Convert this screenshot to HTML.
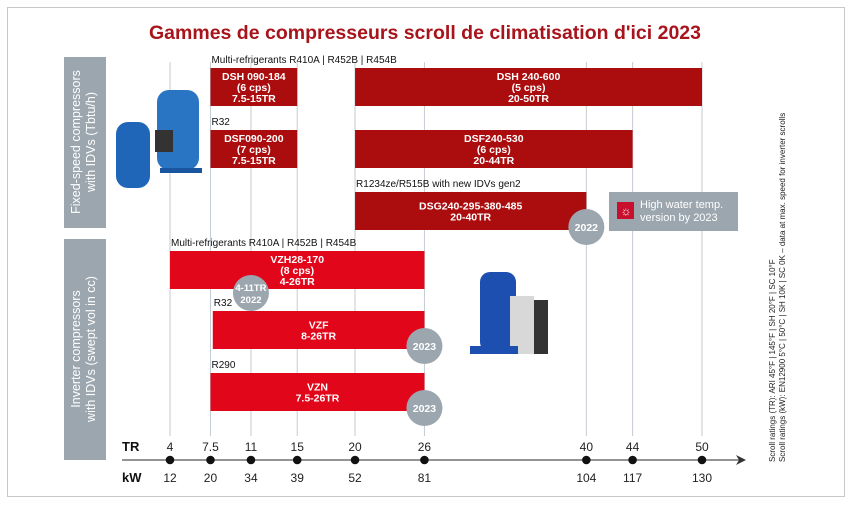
<!DOCTYPE html>
<html><head><meta charset="utf-8">
<style>
body{margin:0;background:#fff;}
svg{display:block;font-family:"Liberation Sans",sans-serif;}
</style></head>
<body>
<svg id="chart" width="851" height="506" viewBox="0 0 851 506">
<rect x="7.5" y="7.5" width="837" height="489" fill="#fff" stroke="#c8c8c8"/>
<text x="425" y="39" text-anchor="middle" font-size="19.5" font-weight="bold" fill="#a8141b" textLength="552" lengthAdjust="spacingAndGlyphs">Gammes de compresseurs scroll de climatisation d'ici 2023</text>
<rect x="64" y="57" width="42" height="171" fill="#9ca6ae"/>
<text transform="translate(80,142) rotate(-90)" text-anchor="middle" font-size="12.5" fill="#fff"><tspan x="0" dy="0">Fixed-speed compressors</tspan><tspan x="0" dy="15">with IDVs (Tbtu/h)</tspan></text>
<rect x="64" y="239" width="42" height="221" fill="#9ca6ae"/>
<text transform="translate(80,349) rotate(-90)" text-anchor="middle" font-size="12.5" fill="#fff"><tspan x="0" dy="0">Inverter compressors</tspan><tspan x="0" dy="15">with IDVs (swept vol in cc)</tspan></text>
<g id="grid"></g>
<g id="bars"></g>
<g id="notes"></g>
<g>
<rect x="116" y="122" width="34" height="66" rx="12" fill="#1f66b8"/>
<rect x="157" y="90" width="42" height="80" rx="12" fill="#2a74c4"/>
<rect x="155" y="130" width="18" height="22" fill="#333"/>
<rect x="160" y="168" width="42" height="5" fill="#1a55a0"/>
</g>
<g>
<rect x="480" y="272" width="36" height="80" rx="10" fill="#1d4fb0"/>
<rect x="510" y="296" width="24" height="58" fill="#d8d8d8"/>
<rect x="534" y="300" width="14" height="54" fill="#333"/>
<rect x="470" y="346" width="48" height="8" fill="#1d4fb0"/>
</g>
<rect x="609" y="192" width="129" height="39" fill="#9ca6ae"/>
<rect x="617" y="202" width="17" height="17" fill="#c8102e"/>
<text x="626" y="215" text-anchor="middle" font-size="12" fill="#fff">☼</text>
<text x="640" y="208" font-size="11" fill="#fff"><tspan x="640">High water temp.</tspan><tspan x="640" dy="13">version by 2023</tspan></text>
<g id="axis"></g>
<text transform="translate(775,462) rotate(-90)" font-size="8" fill="#222"><tspan x="0" dy="0">Scroll ratings (TR): ARI 45°F | 145°F | SH 20°F | SC 10°F</tspan><tspan x="0" dy="10">Scroll ratings (kW): EN12900 5°C | 50°C | SH 10K | SC 0K – data at max. speed for inverter scrolls</tspan></text>
</svg>
<script>
const trTicks=[4,7.5,11,15,20,26,40,44,50];
const kwTicks=[12,20,34,39,52,81,104,117,130];
const barNames=["DSH 090-184","DSH 240-600","DSF090-200","DSF240-530","DSG240-295-380-485","VZH28-170","VZF","VZN"];
const barStart=[7.5,20,7.5,20,20,4,7.7,7.5];
const barEnd=[15,50,15,44,40,26,26,26];
const barRow=[0,0,1,1,2,3,4,5];
const barLabels=[["DSH 090-184","(6 cps)","7.5-15TR"],["DSH 240-600","(5 cps)","20-50TR"],["DSF090-200","(7 cps)","7.5-15TR"],["DSF240-530","(6 cps)","20-44TR"],["DSG240-295-380-485","20-40TR"],["VZH28-170","(8 cps)","4-26TR"],["VZF","8-26TR"],["VZN","7.5-26TR"]];
const barInverter=[0,0,0,0,0,1,1,1];
const badgeTR=[11,26,26,40];
const badgeRow=[3,4,5,2];
const badgeText=[["4-11TR","2022"],["2023"],["2023"],["2022"]];
const refNotes=["Multi-refrigerants R410A | R452B | R454B","R32","R1234ze/R515B with new IDVs gen2","Multi-refrigerants R410A | R452B | R454B","R32","R290"];
const refTR=[7.5,7.5,20,4,7.7,7.5];
const refRow=[0,1,2,3,4,5];

const NS="http://www.w3.org/2000/svg";
const x=v=>170+(v-4)*(702-170)/46;
const rowTop=r=>[68,130,192,251,311,373][r];
const rowH=38;
function mk(t,a,p){const e=document.createElementNS(NS,t);for(const k in a)e.setAttribute(k,a[k]);p.appendChild(e);return e;}
const grid=document.getElementById('grid'),bars=document.getElementById('bars'),notes=document.getElementById('notes'),axis=document.getElementById('axis');
trTicks.forEach((t,i)=>{
 const l=mk('line',{x1:x(t),x2:x(t),y1:62,y2:436,stroke:'#c4cbd1','stroke-width':1},grid);
 
 
});
barNames.forEach((n,i)=>{
 const g=mk('g',{},bars);
 
 
 const x0=x(barStart[i]),x1=x(barEnd[i]),y=rowTop(barRow[i]);
 mk('rect',{x:x0,y:y,width:x1-x0,height:rowH,fill:barInverter[i]?'#e2061a':'#ab0d0e'},g);
 const L=barLabels[i],cy=y+rowH/2-(L.length-1)*5.5+4;
 L.forEach((s,j)=>{const t=mk('text',{x:(x0+x1)/2,y:cy+j*11,'text-anchor':'middle','font-size':10.5,'font-weight':'bold',fill:'#fff'},g);t.textContent=s;});
});
refNotes.forEach((s,i)=>{
 const t=mk('text',{x:x(refTR[i])+1,y:rowTop(refRow[i])-5,'font-size':10,fill:'#111'},notes);
 t.textContent=s;
 
 
});
badgeTR.forEach((b,i)=>{
 const g=mk('g',{},bars);
 
 
 const cx=x(b);
 const yy=i==0?293:rowTop(badgeRow[i])+rowH-3;
 mk('circle',{cx:cx,cy:yy,r:18,fill:'#9ca6ae'},g);
 const T=badgeText[i];
 T.forEach((s,j)=>{const t=mk('text',{x:cx,y:yy+4+(j-(T.length-1)/2)*12,'text-anchor':'middle','font-size':T.length>1?9.5:10.5,'font-weight':'bold',fill:'#fff'},g);t.textContent=s;});
});
const al=mk('line',{x1:122,y1:460,x2:740,y2:460,stroke:'#555','stroke-width':1.3},axis);


const ar=mk('path',{d:'M736,455 L746,460 L736,465 L739,460 Z',fill:'#333'},axis);


const tl=mk('text',{x:122,y:451,'font-size':13,'font-weight':'bold',fill:'#111'},axis);tl.textContent='TR';


const kl=mk('text',{x:122,y:482,'font-size':13,'font-weight':'bold',fill:'#111'},axis);kl.textContent='kW';


trTicks.forEach((t,i)=>{
 const c=mk('circle',{cx:x(t),cy:460,r:4.3,fill:'#111'},axis);
 
 
 const a=mk('text',{x:x(t),y:451,'text-anchor':'middle','font-size':12,fill:'#222'},axis);a.textContent=t;
 
 
 const b=mk('text',{x:x(t),y:482,'text-anchor':'middle','font-size':12,fill:'#222'},axis);b.textContent=kwTicks[i];
 
 
});
</script>
</body></html>
